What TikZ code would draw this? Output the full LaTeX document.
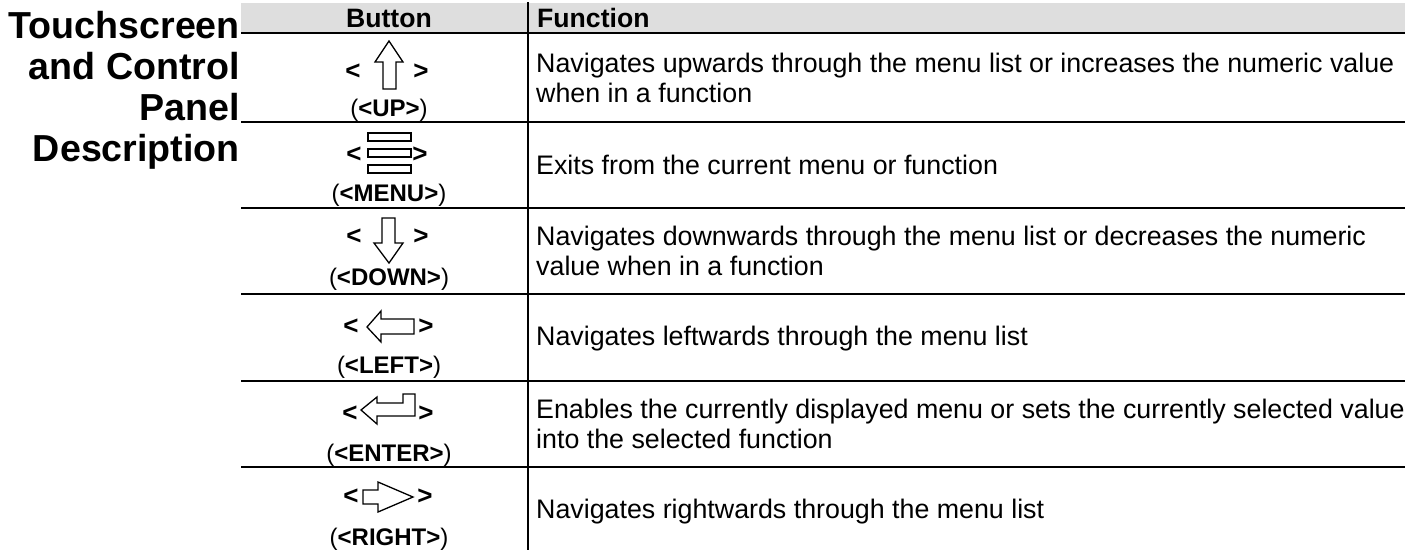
\documentclass[tikz,border=0pt]{standalone}
\usepackage{fontspec}
\setmainfont{Liberation Sans}
\definecolor{hdrgray}{RGB}{222,222,222}
\begin{document}
\begin{tikzpicture}[x=1pt,y=-1pt,
  tbl/.style={line width=1.6pt},
  ico/.style={draw=black,line width=1.3pt,fill=white,line join=miter},
  ttl/.style={anchor=base east,inner sep=0pt,font=\bfseries\fontsize{37.6}{41}\selectfont},
  hdr/.style={inner sep=0pt,font=\bfseries\fontsize{26.6}{30}\selectfont},
  fn/.style={anchor=west,inner sep=0pt,align=left,font=\fontsize{26.8}{29.5}\selectfont},
  lbl/.style={anchor=base,inner sep=0pt,font=\fontsize{24}{28}\selectfont},
  br/.style={inner sep=0pt,font=\bfseries\fontsize{26}{28}\selectfont}]
\useasboundingbox (0,0) rectangle (1417,550);
% header band
\fill[hdrgray] (241,3) rectangle (1405,33);
% horizontal rules
\foreach \yy in {33,122,208,294,381,467}{\draw[tbl] (241,\yy) -- (1405,\yy);}
% vertical divider
\draw[tbl] (528,2) -- (528,550);
% title
\node[ttl] (t1) at (240,38) {Touchscreen};
\node[ttl] (t2) at (240,79) {and Control};
\node[ttl] (t3) at (240,120) {Panel};
\node[ttl] (t4) at (240,161) {Description};
% header
\node[hdr] (hb) at (389,18) {Button};
\node[hdr,anchor=west] (hf) at (537,18) {Function};
% row 1 UP
\node[br] (l1) at (353,72) {<};
\node[br] (r1) at (421,72) {>};
\draw[ico] (389,41) -- (403,62) -- (396,62) -- (396,89) -- (383,89) -- (383,62) -- (375,62) -- cycle;
\node[lbl] (b1) at (389,116) {(\textbf{<UP>})};
\node[fn] (f1) at (536,78) {Navigates upwards through the menu list or increases the numeric value\\when in a function};
% row 2 MENU
\node[br] (l2) at (354,155) {<};
\node[br] (r2) at (420,155) {>};
\draw[ico] (368,133) rectangle (411,141);
\draw[ico] (368,149) rectangle (411,157);
\draw[ico] (368,165) rectangle (411,173);
\node[lbl] (b2) at (389,201) {(\textbf{<MENU>})};
\node[fn] (f2) at (536,165) {Exits from the current menu or function};
% row 3 DOWN
\node[br] (l3) at (354,237) {<};
\node[br] (r3) at (421,237) {>};
\draw[ico] (382,218) -- (395,218) -- (395,243) -- (403,243) -- (389,263) -- (374,243) -- (382,243) -- cycle;
\node[lbl] (b3) at (389,285) {(\textbf{<DOWN>})};
\node[fn] (f3) at (536,251) {Navigates downwards through the menu list or decreases the numeric\\value when in a function};
% row 4 LEFT
\node[br] (l4) at (351,327) {<};
\node[br] (r4) at (426,327) {>};
\draw[ico] (367,327) -- (381,311) -- (381,319) -- (414,319) -- (414,334) -- (381,334) -- (381,342) -- cycle;
\node[lbl] (b4) at (389,373) {(\textbf{<LEFT>})};
\node[fn] (f4) at (536,339) {Navigates leftwards through the menu list};
% row 5 ENTER
\node[br] (l5) at (350,414) {<};
\node[br] (r5) at (426,414) {>};
\draw[ico] (361,410) -- (377,397) -- (377,403) -- (403,403) -- (403,394) -- (415,394) -- (415,416) -- (377,416) -- (377,424) -- cycle;
\node[lbl] (b5) at (389,461) {(\textbf{<ENTER>})};
\node[fn] (f5) at (536,424) {Enables the currently displayed menu or sets the currently selected value\\into the selected function};
% row 6 RIGHT
\node[br] (l6) at (351,497) {<};
\node[br] (r6) at (425,497) {>};
\draw[ico] (363,490) -- (378,490) -- (378,482) -- (413,497) -- (378,512) -- (378,504) -- (363,504) -- cycle;
\node[lbl] (b6) at (389,545) {(\textbf{<RIGHT>})};
\node[fn] (f6) at (536,512) {Navigates rightwards through the menu list};
\end{tikzpicture}
\end{document}
